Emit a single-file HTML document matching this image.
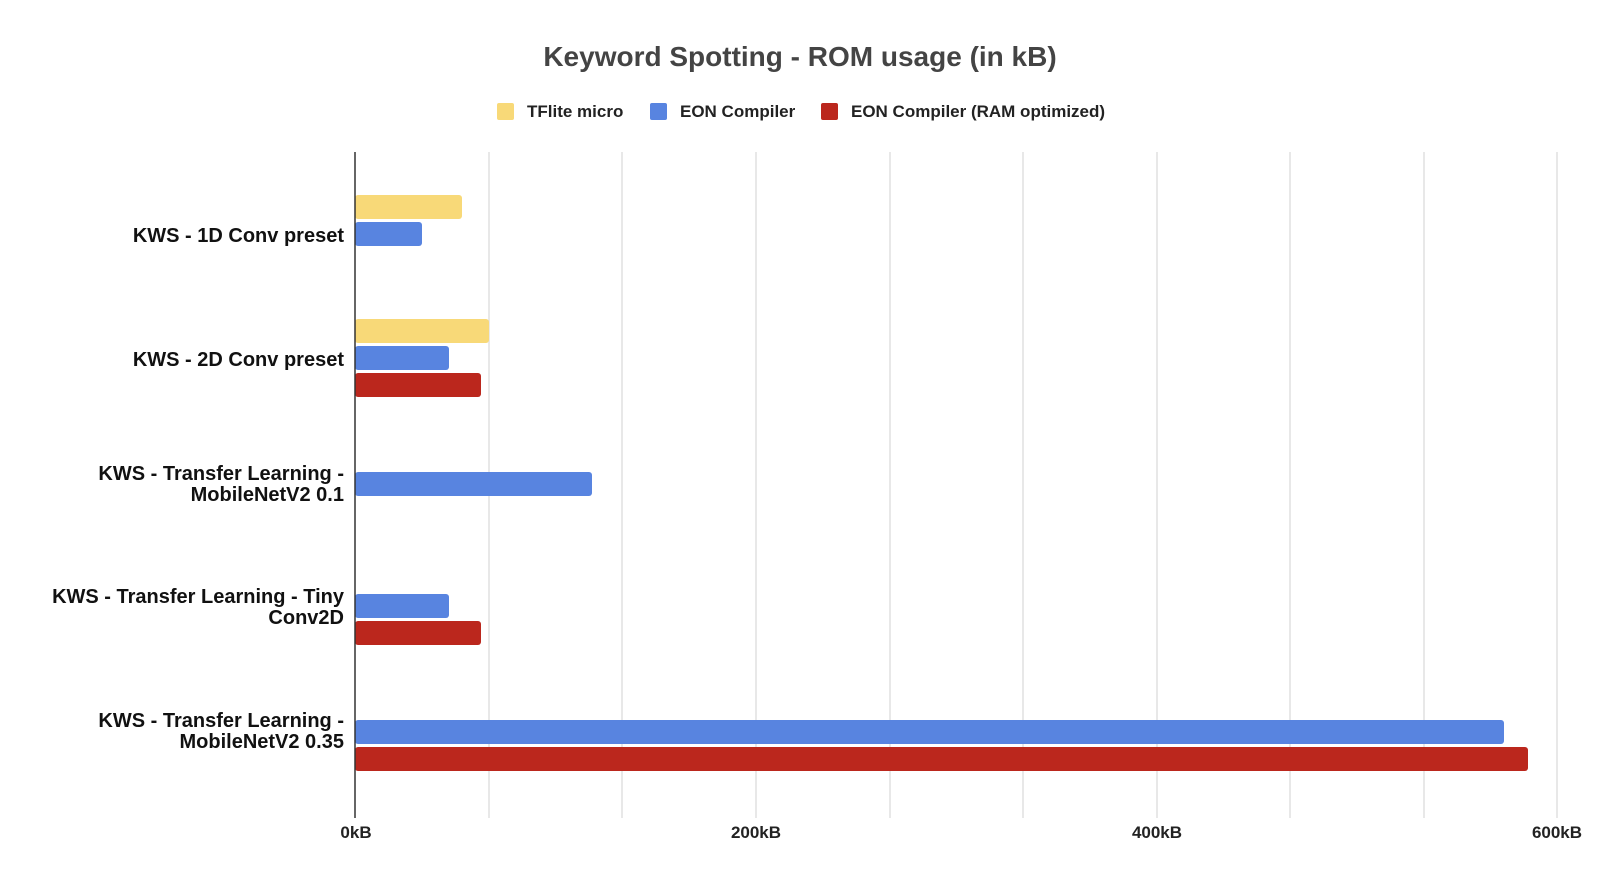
<!DOCTYPE html>
<html><head><meta charset="utf-8"><style>
html,body{margin:0;padding:0;background:#fff;}
svg{display:block;font-family:"Liberation Sans",Arial,sans-serif;}
</style></head><body>
<svg width="1600" height="885" viewBox="0 0 1600 885" xmlns="http://www.w3.org/2000/svg">
<rect width="1600" height="885" fill="#fff"/>
<text x="800" y="66" text-anchor="middle" font-size="28" font-weight="bold" fill="#444">Keyword Spotting - ROM usage (in kB)</text>
<g font-size="17" font-weight="bold" fill="#222">
<rect x="497" y="103" width="17" height="17" rx="2" fill="#f8d978"/><text x="527" y="117">TFlite micro</text>
<rect x="650" y="103" width="17" height="17" rx="2" fill="#5884e0"/><text x="680" y="117">EON Compiler</text>
<rect x="821" y="103" width="17" height="17" rx="2" fill="#bb271d"/><text x="851" y="117">EON Compiler (RAM optimized)</text>
</g>
<g stroke="#e0e0e0" stroke-width="1.5">
<line x1="489" y1="152" x2="489" y2="818"/><line x1="622" y1="152" x2="622" y2="818"/><line x1="756" y1="152" x2="756" y2="818"/>
<line x1="890" y1="152" x2="890" y2="818"/><line x1="1023" y1="152" x2="1023" y2="818"/><line x1="1157" y1="152" x2="1157" y2="818"/>
<line x1="1290" y1="152" x2="1290" y2="818"/><line x1="1424" y1="152" x2="1424" y2="818"/><line x1="1557" y1="152" x2="1557" y2="818"/>
</g>
<g>
<rect x="355" y="195" width="107" height="24" rx="3" fill="#f8d978"/>
<rect x="355" y="222" width="67" height="24" rx="3" fill="#5884e0"/>
<rect x="355" y="319" width="134" height="24" rx="3" fill="#f8d978"/>
<rect x="355" y="346" width="94" height="24" rx="3" fill="#5884e0"/>
<rect x="355" y="373" width="126" height="24" rx="3" fill="#bb271d"/>
<rect x="355" y="472" width="237" height="24" rx="3" fill="#5884e0"/>
<rect x="355" y="594" width="94" height="24" rx="3" fill="#5884e0"/>
<rect x="355" y="621" width="126" height="24" rx="3" fill="#bb271d"/>
<rect x="355" y="720" width="1149" height="24" rx="3" fill="#5884e0"/>
<rect x="355" y="747" width="1173" height="24" rx="3" fill="#bb271d"/>
</g>
<line x1="355" y1="152" x2="355" y2="818" stroke="#333" stroke-width="1.5"/>
<g font-size="20" font-weight="bold" fill="#111" text-anchor="end">
<text x="344" y="242">KWS - 1D Conv preset</text>
<text x="344" y="366">KWS - 2D Conv preset</text>
<text x="344" y="480">KWS - Transfer Learning -</text><text x="344" y="501">MobileNetV2 0.1</text>
<text x="344" y="603">KWS - Transfer Learning - Tiny</text><text x="344" y="624">Conv2D</text>
<text x="344" y="727">KWS  - Transfer Learning -</text><text x="344" y="748">MobileNetV2 0.35</text>
</g>
<g font-size="17" font-weight="bold" fill="#222" text-anchor="middle">
<text x="356" y="838">0kB</text><text x="756" y="838">200kB</text><text x="1157" y="838">400kB</text><text x="1557" y="838">600kB</text>
</g>
</svg>
</body></html>
